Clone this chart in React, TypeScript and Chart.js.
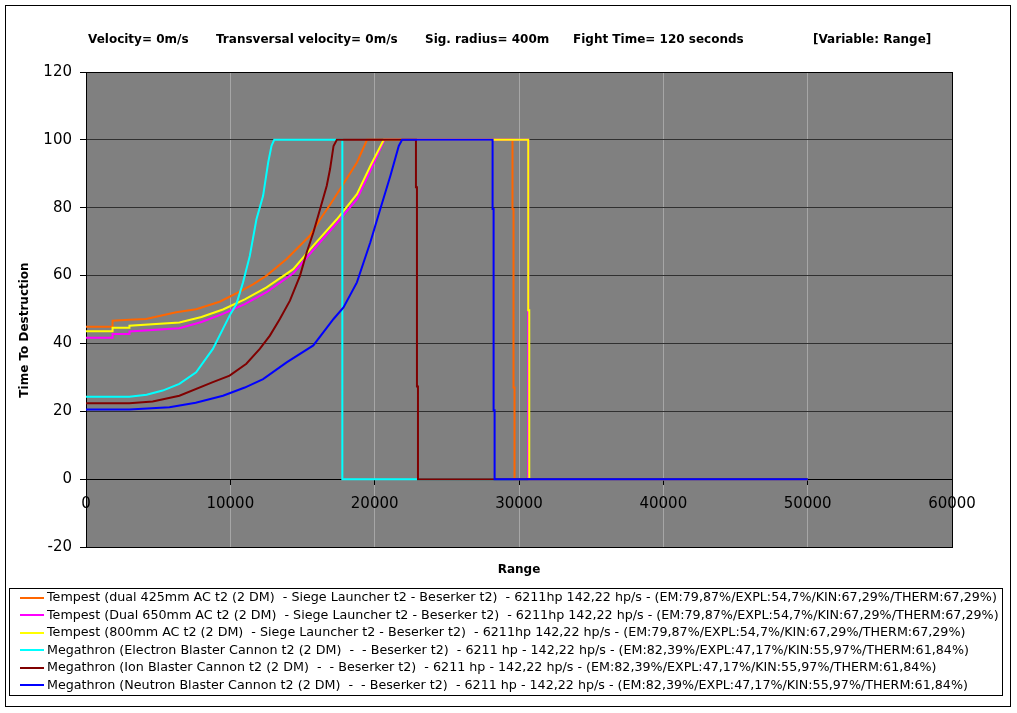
import React, { useEffect, useRef } from 'react';
import { Chart, registerables } from 'chart.js';

Chart.register(...registerables);

const W = 1017;
const H = 713;

// ---- tick labels ----
const xTicks = [0, 10000, 20000, 30000, 40000, 50000, 60000];
const yTicks = [-20, 0, 20, 40, 60, 80, 100, 120];

// ---- texts ----
const titleParts = [
  'Velocity= 0m/s',
  'Transversal velocity= 0m/s',
  'Sig. radius= 400m',
  'Fight Time= 120 seconds',
  '[Variable: Range]',
];
const xAxisTitle = 'Range';
const yAxisTitle = 'Time To Destruction';

const seriesLabels = [
  'Tempest (dual 425mm AC t2 (2 DM)  - Siege Launcher t2 - Beserker t2)  - 6211hp 142,22 hp/s - (EM:79,87%/EXPL:54,7%/KIN:67,29%/THERM:67,29%)',
  'Tempest (Dual 650mm AC t2 (2 DM)  - Siege Launcher t2 - Beserker t2)  - 6211hp 142,22 hp/s - (EM:79,87%/EXPL:54,7%/KIN:67,29%/THERM:67,29%)',
  'Tempest (800mm AC t2 (2 DM)  - Siege Launcher t2 - Beserker t2)  - 6211hp 142,22 hp/s - (EM:79,87%/EXPL:54,7%/KIN:67,29%/THERM:67,29%)',
  'Megathron (Electron Blaster Cannon t2 (2 DM)  -  - Beserker t2)  - 6211 hp - 142,22 hp/s - (EM:82,39%/EXPL:47,17%/KIN:55,97%/THERM:61,84%)',
  'Megathron (Ion Blaster Cannon t2 (2 DM)  -  - Beserker t2)  - 6211 hp - 142,22 hp/s - (EM:82,39%/EXPL:47,17%/KIN:55,97%/THERM:61,84%)',
  'Megathron (Neutron Blaster Cannon t2 (2 DM)  -  - Beserker t2)  - 6211 hp - 142,22 hp/s - (EM:82,39%/EXPL:47,17%/KIN:55,97%/THERM:61,84%)',
];
const seriesColors = ['#FF6600', '#FF00FF', '#FFFF00', '#00FFFF', '#800000', '#0000FF'];

// ---- series values (range in m, time to destruction in s) ----
const orangeX = [0, 1830, 1840, 3000, 4160, 6250, 7630, 9260, 10650, 11600, 12510, 13900, 15520, 16220, 16900, 17610, 18200, 18770, 19100, 19470, 29550, 29550, 29620, 29620, 29690, 29690, 50000];
const orangeY = [44.9, 44.9, 46.7, 47.0, 47.2, 49.2, 50.1, 52.3, 55.3, 57.5, 60.0, 64.9, 71.8, 76.6, 80.8, 85.5, 89.5, 93.3, 96.5, 100, 100, 79.6, 79.6, 27, 27, 0, 0];

const magentaX = [0, 1830, 1840, 3000, 3010, 6470, 8000, 9490, 11000, 12510, 14360, 15750, 17380, 18770, 19700, 20670, 30640, 30640, 50000];
const magentaY = [41.7, 41.7, 42.8, 42.8, 43.5, 44.5, 46.3, 48.7, 51.6, 55.1, 60.7, 67.6, 75.5, 82.5, 90.9, 100, 100, 0, 0];

const yellowX = [0, 1830, 1840, 3000, 3010, 6470, 8000, 9490, 11000, 12510, 14360, 15750, 17380, 18770, 19700, 20630, 30640, 30640, 30710, 30710, 50000];
const yellowY = [43.6, 43.6, 44.6, 44.6, 45.2, 46.2, 47.8, 50.0, 53.0, 56.5, 61.9, 68.8, 76.6, 84.0, 92.3, 100, 100, 49.8, 49.8, 0, 0];

const cyanX = [0, 3000, 4200, 5310, 6470, 7630, 8790, 9490, 9950, 10420, 10880, 11350, 11810, 12270, 12620, 12850, 13040, 17760, 17760, 50000];
const cyanY = [24.3, 24.3, 24.9, 26.1, 28.1, 31.5, 38.4, 44.3, 48.2, 51.6, 58.0, 65.8, 76.6, 83.5, 93.3, 98.2, 100, 100, 0, 0];

const darkRedX = [0, 3000, 4620, 6470, 8790, 9950, 11110, 12040, 12740, 13430, 14130, 14830, 15290, 15750, 16220, 16680, 16910, 17150, 17380, 22860, 22860, 22930, 22930, 23000, 23000, 50000];
const darkRedY = [22.4, 22.4, 22.9, 24.6, 28.6, 30.5, 34.0, 38.4, 42.3, 47.2, 52.6, 60.0, 66.8, 72.7, 79.6, 86.5, 91.4, 98.2, 100, 100, 86, 86, 27.3, 27.3, 0, 0];

const blueX = [0, 3000, 5780, 7600, 9490, 11000, 12270, 13900, 15750, 17150, 17840, 18770, 19700, 20390, 21090, 21670, 21900, 28170, 28170, 28240, 28240, 28310, 28310, 50000];
const blueY = [20.5, 20.5, 21.2, 22.5, 24.6, 27.0, 29.5, 34.4, 39.4, 47.2, 50.6, 58.0, 69.8, 79.6, 89.4, 98.2, 100, 100, 79.6, 79.6, 20.3, 20.3, 0, 0];

const seriesX = [orangeX, magentaX, yellowX, cyanX, darkRedX, blueX];
const seriesY = [orangeY, magentaY, yellowY, cyanY, darkRedY, blueY];

const FONT = '"DejaVu Sans", Verdana, sans-serif';

const decorPlugin = {
  id: 'decor',
  beforeDraw(chart: any) {
    const { ctx, chartArea: a } = chart;
    ctx.save();
    ctx.fillStyle = '#ffffff';
    ctx.fillRect(0, 0, W, H);
    ctx.fillStyle = '#808080';
    ctx.fillRect(a.left, a.top, a.right - a.left, a.bottom - a.top);
    ctx.restore();
  },
  beforeDatasetsDraw(chart: any) {
    const { ctx, chartArea: a } = chart;
    ctx.save();
    ctx.strokeStyle = '#000';
    ctx.lineWidth = 1;
    ctx.strokeRect(a.left + 0.5, a.top + 0.5, a.right - a.left, a.bottom - a.top);
    ctx.restore();
  },
  afterDraw(chart: any) {
    const { ctx, chartArea: a } = chart;
    ctx.save();
    // outer frame
    ctx.strokeStyle = '#000';
    ctx.lineWidth = 1;
    ctx.strokeRect(5.5, 5.5, 1005, 701);

    // title line
    ctx.fillStyle = '#000';
    ctx.font = 'bold 12px ' + FONT;
    ctx.textBaseline = 'middle';
    ctx.textAlign = 'left';
    const tx = [88, 216, 425, 573, 813];
    titleParts.forEach((t, i) => ctx.fillText(t, tx[i], 40));

    // axis titles
    ctx.textAlign = 'center';
    ctx.fillText(xAxisTitle, (a.left + a.right) / 2, 570);
    ctx.save();
    ctx.translate(25, 330);
    ctx.rotate(-Math.PI / 2);
    ctx.fillText(yAxisTitle, 0, 0);
    ctx.restore();

    // legend
    ctx.strokeStyle = '#000';
    ctx.lineWidth = 1;
    ctx.strokeRect(9.5, 588.5, 993, 107);
    ctx.font = '12.7px ' + FONT;
    ctx.textAlign = 'left';
    seriesLabels.forEach((label, i) => {
      const y = 597.7 + i * 17.5;
      ctx.strokeStyle = seriesColors[i];
      ctx.lineWidth = 2;
      ctx.beginPath();
      ctx.moveTo(20, Math.round(y));
      ctx.lineTo(44, Math.round(y));
      ctx.stroke();
      ctx.fillStyle = '#000';
      ctx.fillText(label, 47, y);
    });
    ctx.restore();
  },
};

export default function App() {
  const ref = useRef<HTMLCanvasElement | null>(null);

  useEffect(() => {
    const canvas = ref.current;
    if (!canvas) return;
    Chart.defaults.font.family = FONT;

    const datasets = seriesLabels.map((label, i) => ({
      label,
      data: seriesX[i].map((x, j) => ({ x, y: seriesY[i][j] })),
      borderColor: seriesColors[i],
      backgroundColor: seriesColors[i],
      borderWidth: 2,
      showLine: true,
      pointRadius: 0,
      pointHoverRadius: 0,
      tension: 0,
      fill: false,
      order: seriesLabels.length - 1 - i,
    }));

    const chart = new Chart(canvas, {
      type: 'scatter',
      data: { datasets },
      options: {
        animation: false,
        responsive: false,
        devicePixelRatio: 1,
        events: [],
        layout: { padding: { left: 0, right: 65, top: 72, bottom: 166 } },
        plugins: {
          legend: { display: false },
          title: { display: false },
          tooltip: { enabled: false },
        },
        scales: {
          x: {
            type: 'linear',
            min: 0,
            max: 60000,
            position: { y: 0 } as any,
            afterBuildTicks: (s: any) => {
              s.ticks = xTicks.map((v) => ({ value: v }));
            },
            ticks: {
              font: { size: 15 },
              color: '#000',
              padding: 11,
              maxRotation: 0,
              autoSkip: false,
              callback: (v: any) => String(v),
            },
            grid: { color: '#a6a6a6', tickColor: '#000', tickLength: 5, lineWidth: 1 },
            border: { color: '#000', width: 1 },
          },
          y: {
            type: 'linear',
            min: -20,
            max: 120,
            position: 'left',
            afterBuildTicks: (s: any) => {
              s.ticks = yTicks.map((v) => ({ value: v }));
            },
            afterFit: (s: any) => {
              s.width = 86;
            },
            ticks: {
              font: { size: 15 },
              color: '#000',
              padding: 8,
              callback: (v: any) => String(v),
            },
            grid: { color: '#303030', tickColor: '#000', tickLength: 6, lineWidth: 1 },
            border: { color: '#000', width: 1 },
          },
        },
      },
      plugins: [decorPlugin],
    } as any);

    return () => chart.destroy();
  }, []);

  return (
    <div style={{ position: 'absolute', left: 0, top: 0, width: W, height: H }}>
      <canvas ref={ref} width={W} height={H} style={{ width: W, height: H, display: 'block' }} />
    </div>
  );
}
